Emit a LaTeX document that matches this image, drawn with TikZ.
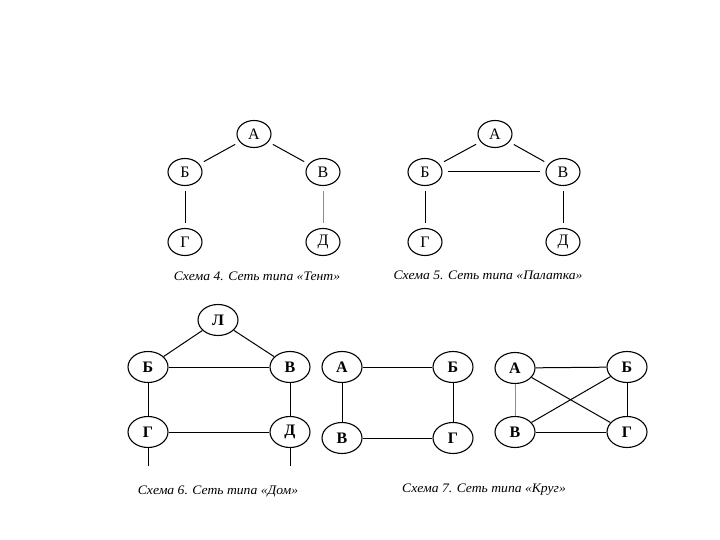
\documentclass[tikz,border=0pt]{standalone}
\usepackage{fontspec}
\setmainfont{Liberation Serif}
\usetikzlibrary{shapes.geometric}
\tikzset{
  vert/.style={draw,ellipse,line width=1.1pt,inner sep=0pt,
               font=\fontsize{16}{16}\selectfont},
  vsmall/.style={vert,minimum width=34pt,minimum height=27pt},
  vbig/.style={vert,minimum width=40pt,minimum height=31pt,
               font=\fontsize{16}{16}\selectfont\bfseries},
  ln/.style={line width=1pt},
  lnlight/.style={ln,draw=black!45},
  gap/.style={shorten <=5pt,shorten >=5pt},
  caption/.style={font=\fontsize{13}{14}\selectfont\itshape,inner sep=1pt,
                  xscale=1.05},
}

\begin{document}
\begin{tikzpicture}[x=1pt,y=-1pt]

\useasboundingbox (0,0) rectangle (720,540);

% =======================  TOP LEFT: tent  =====================
\node[vsmall] (ta) at (254,134) {А};
\node[vsmall] (tb) at (185,172) {Б};
\node[vsmall] (tv) at (323,172) {В};
\node[vsmall] (tg) at (185,242) {Г};
\node[vsmall] (td) at (323,242) {Д};
\draw[ln,gap] (ta) -- (tb);
\draw[ln,gap] (ta) -- (tv);
\draw[ln,gap] (tb) -- (tg);
\draw[lnlight,gap] (tv) -- (td);
\node[caption] (tcap) at (257,276) {Схема 4. Сеть типа «Тент»};

% =======================  TOP RIGHT: palatka  ====================
\node[vsmall] (pa) at (495,134) {А};
\node[vsmall] (pb) at (425,172) {Б};
\node[vsmall] (pv) at (563,172) {В};
\node[vsmall] (pg) at (425,242) {Г};
\node[vsmall] (pd) at (563,242) {Д};
\draw[ln,gap] (pa) -- (pb);
\draw[ln,gap] (pa) -- (pv);
\draw[ln,gap] (pb) -- (pv);
\draw[ln,gap] (pb) -- (pg);
\draw[ln,gap] (pv) -- (pd);
\node[caption] (pcap) at (488,275) {Схема 5. Сеть типа «Палатка»};

% =======================  BOTTOM LEFT: house  ====================
\node[vbig] (dl) at (218,320) {Л};
\node[vbig] (db) at (148,367) {Б};
\node[vbig] (dv) at (290,367) {В};
\node[vbig] (dg) at (148,432) {Г};
\node[vbig] (dd) at (290,432) {Д};
\coordinate (dgend) at (148,466);
\coordinate (ddend) at (290,466);
\draw[ln] (dl) -- (db);
\draw[ln] (dl) -- (dv);
\draw[ln] (db) -- (dv);
\draw[ln] (db) -- (dg);
\draw[ln] (dv) -- (dd);
\draw[ln] (dg) -- (dd);
\draw[ln] (dg) -- (dgend);
\draw[ln] (dd) -- (ddend);
\node[caption] (dcap) at (218,492) {Схема 6. Сеть типа «Дом»};

% =======================  BOTTOM RIGHT: two circles  =============
\node[vbig] (ka) at (342,367) {А};
\node[vbig] (kb) at (453,367) {Б};
\node[vbig] (kv) at (342,438) {В};
\node[vbig] (kg) at (453,438) {Г};
\draw[ln] (ka) -- (kb);
\draw[ln] (ka) -- (kv);
\draw[ln] (kb) -- (kg);
\draw[ln] (kv) -- (kg);

\node[vbig] (ra) at (515,368) {А};
\node[vbig] (rb) at (627,367) {Б};
\node[vbig] (rv) at (515,432) {В};
\node[vbig] (rg) at (627,432) {Г};
\draw[ln] (ra) -- (rb);
\draw[lnlight] (ra) -- (rv);
\draw[ln] (rb) -- (rg);
\draw[ln] (rv) -- (rg);
\draw[ln] (ra) -- (rg);
\draw[ln] (rb) -- (rv);
\node[caption] (rcap) at (484,490) {Схема 7. Сеть типа «Круг»};

\end{tikzpicture}
\end{document}
